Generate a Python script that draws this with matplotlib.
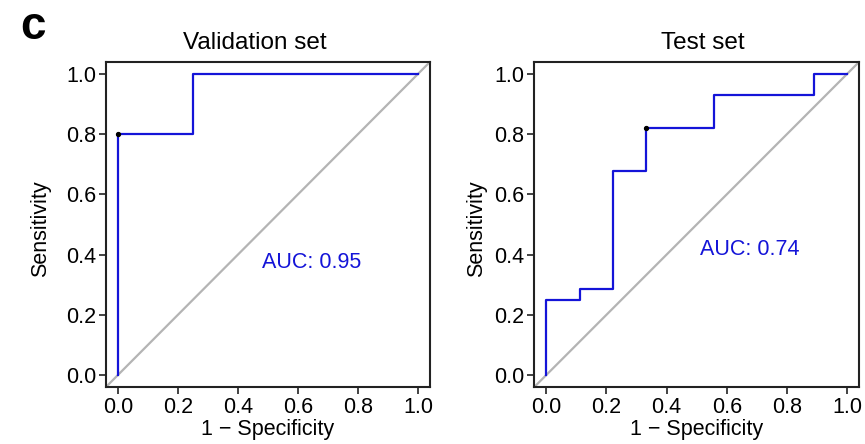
import matplotlib
matplotlib.use("Agg")
import matplotlib.pyplot as plt

plt.rcParams["font.family"] = ["Liberation Sans", "DejaVu Sans"]

# ROC curve corners
val_fpr = [0.0, 0.0, 0.25, 0.25, 1.0]
val_tpr = [0.0, 0.8, 0.8, 1.0, 1.0]
val_best = (0.0, 0.8)
val_auc = 0.95

test_fpr = [0.0, 0.0, 0.111, 0.111, 0.222, 0.222, 0.333, 0.333, 0.556, 0.556, 0.889, 0.889, 1.0]
test_tpr = [0.0, 0.25, 0.25, 0.286, 0.286, 0.679, 0.679, 0.821, 0.821, 0.929, 0.929, 1.0, 1.0]
test_best = (0.333, 0.821)
test_auc = 0.74

titles = ["Validation set", "Test set"]
ticks = [0.0, 0.2, 0.4, 0.6, 0.8, 1.0]
tick_labels = ["0.0", "0.2", "0.4", "0.6", "0.8", "1.0"]

fig = plt.figure(figsize=(8.65, 4.44), dpi=100)
ax1 = fig.add_axes([0.1225, 0.1284, 0.3745, 0.732])
ax2 = fig.add_axes([0.6177, 0.1284, 0.3754, 0.732])

# per panel: axes, data, AUC text position, title x, ylabel x (axes fraction)
panels = [
    (ax1, val_fpr, val_tpr, val_best, val_auc, titles[0], (0.646, 0.375), 0.458, -0.17),
    (ax2, test_fpr, test_tpr, test_best, test_auc, titles[1], (0.675, 0.416), 0.518, -0.147),
]

for ax, fpr, tpr, best, auc, title, auc_xy, title_x, ylab_x in panels:
    ax.set_xlim(-0.04, 1.04)
    ax.set_ylim(-0.04, 1.04)
    ax.axline((0, 0), (1, 1), color="#b4b4b4", lw=1.6, zorder=1)
    ax.plot(fpr, tpr, color="#1414d8", lw=1.6, zorder=2)
    ax.plot(*best, "o", color="black", ms=2.8, zorder=3)
    ax.text(auc_xy[0], auc_xy[1], "AUC: {:.2f}".format(auc), color="#1414d8",
            fontsize=15.5, ha="center", va="center")
    ax.set_title(title, fontsize=17.5, pad=9, x=title_x)
    ax.set_xticks(ticks)
    ax.set_xticklabels(tick_labels)
    ax.set_yticks(ticks)
    ax.set_yticklabels(tick_labels)
    ax.tick_params(labelsize=15.5, length=5, width=1.2, pad=2, color="#222222")
    ax.set_xlabel("1 \u2212 Specificity", fontsize=15.5, labelpad=1)
    ax.set_ylabel("Sensitivity", fontsize=15.5)
    ax.yaxis.set_label_coords(ylab_x, 0.488)
    for s in ax.spines.values():
        s.set_linewidth(1.5)
        s.set_color("#222222")

fig.text(0.038, 0.94, "c", fontsize=33, fontweight="bold", ha="center", va="center")

fig.savefig("out.png", dpi=100)
